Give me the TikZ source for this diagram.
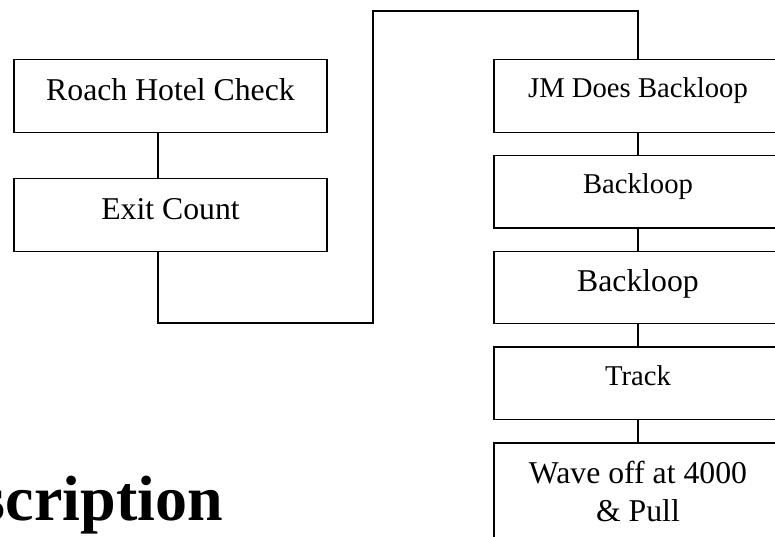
\documentclass[tikz,border=0pt]{standalone}
\usepackage{fontspec}
\setmainfont{Liberation Serif}
\usetikzlibrary{positioning}

\tikzset{
  stepbox/.style={draw, line width=1pt, rectangle, inner sep=0pt},
  bigtext/.style={font=\fontsize{23.8}{28.5}\selectfont, text height=30.4pt, text depth=24pt},
  smalltext/.style={font=\fontsize{21.5}{26}\selectfont, text height=28.5pt, text depth=25.9pt},
  leftbox/.style={stepbox, minimum width=234.75pt},
  rightbox/.style={stepbox, minimum width=216pt},
  link/.style={line width=1pt},
}

\begin{document}
\begin{tikzpicture}[x=0.75pt, y=-0.75pt]
\clip (0,0) rectangle (775,536);

%left column
\node[leftbox, bigtext, anchor=north] (roach) at (170.5,59) {Roach Hotel Check};
\node[leftbox, bigtext, below=33.85pt of roach] (exit) {Exit Count};

%right column
\node[rightbox, smalltext, anchor=north] (jm) at (638,59) {JM Does Backloop};
\node[rightbox, smalltext, below=16.45pt of jm] (loopa) {Backloop};
\node[rightbox, bigtext, below=16.45pt of loopa] (loopb) {Backloop};
\node[rightbox, smalltext, below=16.45pt of loopb] (track) {Track};
\node[rightbox, bigtext, text depth=80pt, below=16.45pt of track] (wave)
  {\parbox[t]{200pt}{\centering Wave off at 4000\\ \& Pull}};

%the links
\coordinate (lx) at (158,0);
\coordinate (lowbend) at (373,323);
\coordinate (topbend) at (373,11);
\draw[link] (roach.south -| lx) -- (exit.north -| lx);
\draw[link] (exit.south -| lx) |- (lowbend) -- (topbend) -| (jm.north);
\draw[link] (jm.south) -- (loopa.north);
\draw[link] (loopa.south) -- (loopb.north);
\draw[link] (loopb.south) -- (track.north);
\draw[link] (track.south) -- (wave.north);

%the heading
\node[font=\fontsize{48}{58}\selectfont\bfseries, anchor=base east, inner sep=0pt] (heading) at (223,520) {scription};
\end{tikzpicture}
\end{document}
